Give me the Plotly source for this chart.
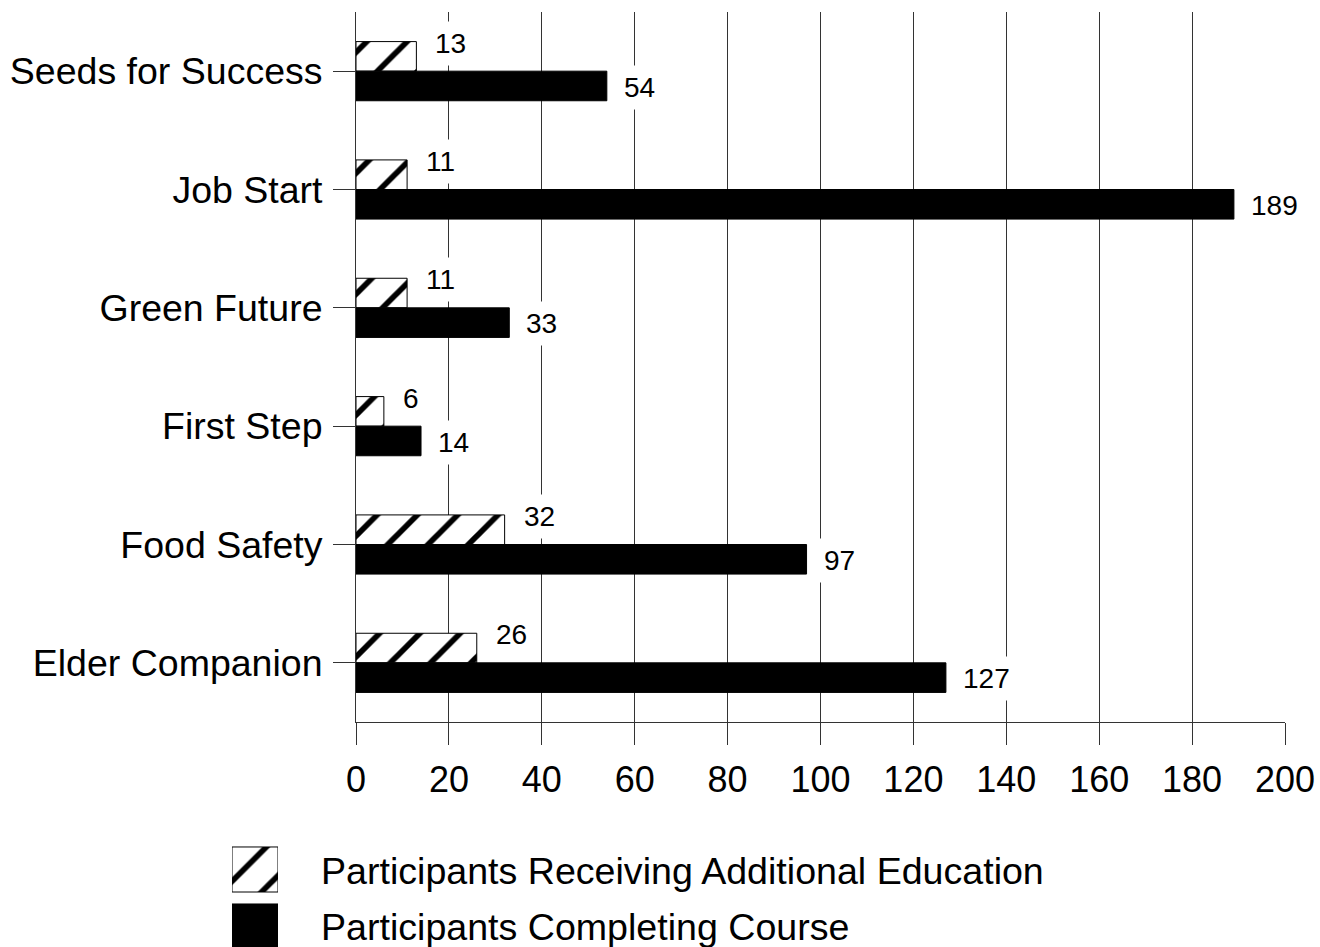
import plotly.graph_objects as go

categories = ["Seeds for Success", "Job Start", "Green Future", "First Step", "Food Safety", "Elder Companion"]
additional_education = [13, 11, 11, 6, 32, 26]
completing_course = [54, 189, 33, 14, 97, 127]
series_names = ["Participants Receiving Additional Education", "Participants Completing Course"]
x_ticks = [0, 20, 40, 60, 80, 100, 120, 140, 160, 180, 200]

W, H = 1320, 947
ML, MR, MT, MB = 0, 35, 12, 0
PW, PH = W - ML - MR, H - MT - MB

def fx(px):
    return (px - ML) / PW

def fy(py):
    return (H - MB - py) / PH

FONT = "Liberation Sans, Arial, sans-serif"
LINE = "#333333"
HATCH_SIZE = 28.5
HATCH_SOLID = 0.2

fig = go.Figure()
fig.add_trace(go.Bar(
    y=categories, x=additional_education, orientation="h", name=series_names[0],
    marker=dict(color="white",
                pattern=dict(shape="/", fgcolor="black", bgcolor="white", fgopacity=1,
                             size=HATCH_SIZE, solidity=HATCH_SOLID, fillmode="replace"),
                line=dict(color="black", width=1)),
    xaxis="x", yaxis="y", showlegend=False, hoverinfo="skip"))
fig.add_trace(go.Bar(
    y=categories, x=completing_course, orientation="h", name=series_names[1],
    marker=dict(color="black", line=dict(color="black", width=1)),
    xaxis="x", yaxis="y", showlegend=False, hoverinfo="skip"))

# legend swatches drawn as bars in a small auxiliary subplot
fig.add_trace(go.Bar(
    y=[1], x=[1], orientation="h", width=[0.79], name=series_names[0],
    marker=dict(color="white",
                pattern=dict(shape="/", fgcolor="black", bgcolor="white", fgopacity=1,
                             size=HATCH_SIZE, solidity=HATCH_SOLID, fillmode="replace"),
                line=dict(color="black", width=1)),
    xaxis="x2", yaxis="y2", showlegend=False, hoverinfo="skip", offsetgroup="leg"))
fig.add_trace(go.Bar(
    y=[0], x=[1], orientation="h", width=[0.79], name=series_names[1],
    marker=dict(color="black", line=dict(color="black", width=1)),
    xaxis="x2", yaxis="y2", showlegend=False, hoverinfo="skip", offsetgroup="leg"))

annotations = []
for c, a, b in zip(categories, additional_education, completing_course):
    annotations.append(dict(x=a, y=c, xref="x", yref="y", text=str(a), showarrow=False,
                            xanchor="left", yanchor="middle", xshift=12, yshift=28,
                            bgcolor="white", borderpad=6,
                            font=dict(family=FONT, size=28, color="black")))
    annotations.append(dict(x=b, y=c, xref="x", yref="y", text=str(b), showarrow=False,
                            xanchor="left", yanchor="middle", xshift=10, yshift=-16,
                            bgcolor="white", borderpad=6,
                            font=dict(family=FONT, size=28, color="black")))

for name, py in zip(series_names, [871, 927]):
    annotations.append(dict(x=fx(319), y=fy(py), xref="paper", yref="paper", text=name,
                            showarrow=False, xanchor="left", yanchor="middle",
                            font=dict(family=FONT, size=37.6, color="black")))

fig.update_layout(
    width=W, height=H,
    margin=dict(l=ML, r=MR, t=MT, b=MB, autoexpand=False),
    paper_bgcolor="white", plot_bgcolor="white",
    barmode="group", bargap=0.5, bargroupgap=0,
    font=dict(family=FONT, color="black"),
    xaxis=dict(domain=[fx(356), fx(1285)], range=[0, 200], tickvals=x_ticks,
               showgrid=True, gridcolor=LINE, gridwidth=1, zeroline=False,
               showline=True, linecolor=LINE, linewidth=1,
               ticks="outside", ticklen=22, tickcolor=LINE, tickwidth=1,
               ticklabelstandoff=4,
               tickfont=dict(family=FONT, size=36, color="black"),
               anchor="y", automargin=False, fixedrange=True),
    yaxis=dict(domain=[fy(722), fy(12)], type="category", autorange="reversed",
               showgrid=False, zeroline=False,
               showline=True, linecolor=LINE, linewidth=1,
               ticks="outside", ticklen=22, tickcolor=LINE, tickwidth=1,
               ticklabelstandoff=3,
               tickfont=dict(family=FONT, size=37.5, color="black"),
               anchor="x", automargin=False, fixedrange=True),
    xaxis2=dict(domain=[fx(232), fx(278)], range=[0, 1], visible=False, anchor="y2", fixedrange=True),
    yaxis2=dict(domain=[0, fy(841)], range=[-0.36, 1.5], type="linear", visible=False, anchor="x2", fixedrange=True),
    annotations=annotations,
)

fig.write_html("out.html")
